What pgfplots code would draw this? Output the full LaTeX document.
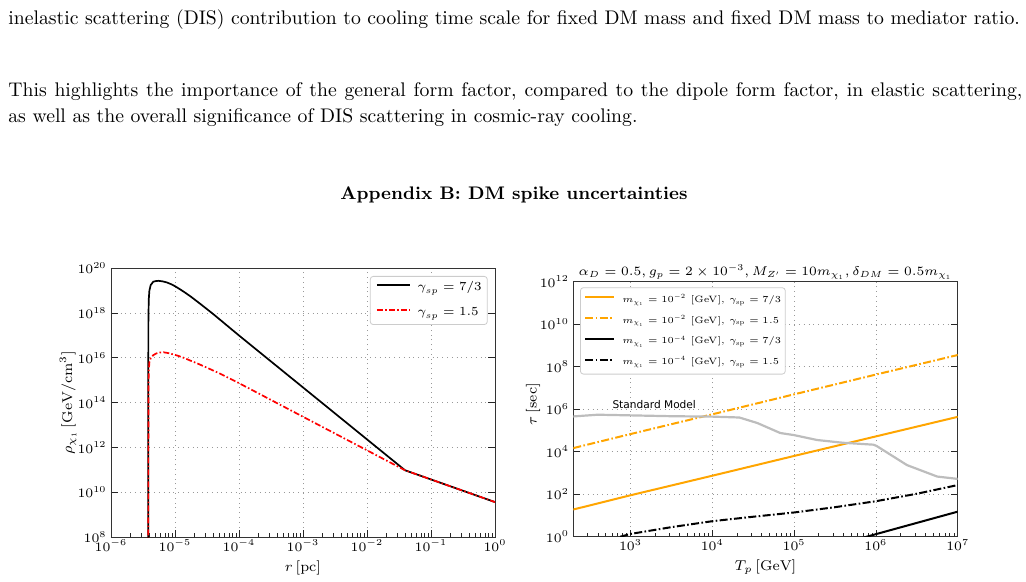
\RequirePackage{fix-cm}
\documentclass[border=0pt]{standalone}
\usepackage{fontspec}
\newfontfamily\dejavu{DejaVu Sans}
\usepackage{pgfplots}
\pgfplotsset{compat=1.18}
\definecolor{mplorange}{HTML}{FFA500}
\definecolor{smgray}{HTML}{BDBDBD}
\pgfplotsset{
  refstyle/.style={
    scale only axis,
    axis line style={black!80},
    every tick/.style={black!85},
    tick align=inside,
    major tick length=3.5pt, minor tick length=1.8pt,
    xtick pos=lower, ytick pos=both,
    xticklabel pos=lower, yticklabel pos=left,
    yminorticks=false,
    xmajorgrids, ymajorgrids,
    grid style={dotted, black!40, line width=0.4pt},
    tick label style={font=\fontsize{6.45}{7.7}\selectfont},
    label style={font=\fontsize{7.1}{8.5}\selectfont},
    xticklabel style={inner sep=1.2pt},
    yticklabel style={inner sep=2pt},
    legend cell align=left,
  }
}
\begin{document}
\begin{tikzpicture}
\useasboundingbox (0pt,0pt) rectangle (513pt,-291pt);
\begin{scope}[font=\fontsize{9.85}{12}\selectfont]
\node[anchor=base west, inner sep=0pt] at (4pt,-12.5pt) {inelastic scattering (DIS) contribution to cooling time scale for fixed DM mass and fixed DM mass to mediator ratio.};
\node[anchor=base west, inner sep=0pt] at (4pt,-48.35pt) {\makebox[507pt][s]{This highlights the importance of the general form factor, compared to the dipole form factor, in elastic scattering,}};
\node[anchor=base west, inner sep=0pt] at (4pt,-61.35pt) {as well as the overall significance of DIS scattering in cosmic-ray cooling.};
\node[anchor=base, inner sep=0pt, font=\fontsize{9.1}{11}\selectfont\bfseries] at (257pt,-100pt) {Appendix B: DM spike uncertainties};
\end{scope}

% ---------------- left panel ----------------
\begin{axis}[xmode=log, ymode=log, refstyle,
  at={(55.5pt,-268.5pt)}, anchor=south west,
  width=192pt, height=134.35pt,
  xmin=1e-6, xmax=1, ymin=1e8, ymax=1e20,
  xtick={1e-6,1e-5,1e-4,1e-3,1e-2,1e-1,1},
  minor xtick={2e-6,3e-6,4e-6,5e-6,6e-6,7e-6,8e-6,9e-6,
               2e-5,3e-5,4e-5,5e-5,6e-5,7e-5,8e-5,9e-5,
               2e-4,3e-4,4e-4,5e-4,6e-4,7e-4,8e-4,9e-4,
               2e-3,3e-3,4e-3,5e-3,6e-3,7e-3,8e-3,9e-3,
               2e-2,3e-2,4e-2,5e-2,6e-2,7e-2,8e-2,9e-2,
               0.2,0.3,0.4,0.5,0.6,0.7,0.8,0.9},
  ytick={1e8,1e10,1e12,1e14,1e16,1e18,1e20},
  xlabel={$r\,[\mathrm{pc}]$},
  ylabel={$\rho_{\chi_1}\,[\mathrm{GeV}/\mathrm{cm}^3]$},
  ylabel style={at={(axis description cs:-0.112,0.5)}, anchor=center},
  legend image code/.code={\draw[#1] (0pt,1.5pt) -- (16.35pt,1.5pt);},
  legend style={at={(1,1)}, anchor=north east, xshift=-3.65pt, yshift=-3.85pt,
    draw=black!20, rounded corners=1.5pt, fill=white,
    font=\fontsize{6.15}{7.4}\selectfont,
    nodes={inner sep=0pt, text height=4.7pt, text depth=1.7pt},
    row sep=6.1pt, column sep=3.65pt,
    inner xsep=2.85pt, inner ysep=2.6pt},
]
\addplot[black, line width=0.85pt] coordinates {
 (3.83e-6,1e7) (3.835e-6,3.16e17) (3.89e-6,3.98e18) (3.98e-6,1e19)
 (4.17e-6,1.78e19) (4.571e-6,2.512e19) (5.012e-6,2.692e19) (5.495e-6,2.754e19)
 (6.310e-6,2.630e19) (7.413e-6,2.344e19) (8.710e-6,1.950e19) (1e-5,1.585e19)
 (1.202e-5,1.148e19) (1.445e-5,8.128e18) (1.778e-5,5.370e18) (2.512e-5,2.512e18)
 (3.981e-5,8.913e17) (1e-4,1e17) (3.93e-2,9.55e10) (1,3.63e9)
};
\addlegendentry{$\gamma_{sp} = 7/3$}
\addplot[red, line width=0.85pt, dash pattern=on 3pt off 1.1pt on 0.8pt off 1.1pt] coordinates {
 (3.83e-6,1e7) (3.846e-6,3.16e14) (3.89e-6,2.51e15) (3.98e-6,6.31e15)
 (4.17e-6,9.55e15) (4.571e-6,1.318e16) (5.129e-6,1.585e16) (5.754e-6,1.738e16)
 (6.607e-6,1.778e16) (7.943e-6,1.622e16) (9.333e-6,1.445e16) (1.122e-5,1.230e16)
 (1.380e-5,1.0e16) (1.698e-5,7.762e15) (2.239e-5,5.623e15) (3.162e-5,3.631e15)
 (5.012e-5,1.995e15) (1e-4,7.413e14) (3.93e-2,9.55e10) (1,3.63e9)
};
\addlegendentry{$\gamma_{sp} = 1.5$}
\end{axis}

% ---------------- right panel ----------------
\begin{axis}[xmode=log, ymode=log, refstyle,
  at={(286.65pt,-268.35pt)}, anchor=south west,
  width=192.2pt, height=127.5pt,
  xmin=200, xmax=1e7, ymin=1, ymax=1e12,
  xtick={1e3,1e4,1e5,1e6,1e7},
  minor xtick={300,400,500,600,700,800,900,
               2000,3000,4000,5000,6000,7000,8000,9000,
               2e4,3e4,4e4,5e4,6e4,7e4,8e4,9e4,
               2e5,3e5,4e5,5e5,6e5,7e5,8e5,9e5,
               2e6,3e6,4e6,5e6,6e6,7e6,8e6,9e6},
  ytick={1,1e2,1e4,1e6,1e8,1e10,1e12},
  xlabel={$T_p\,[\mathrm{GeV}]$},
  ylabel={$\tau\,[\mathrm{sec}]$},
  ylabel style={at={(axis description cs:-0.105,0.52)}, anchor=center},
  title={$\alpha_D = 0.5, g_p = 2\times 10^{-3}, M_{Z'} = 10m_{\chi_1}, \delta_{DM} = 0.5m_{\chi_1}$},
  title style={font=\fontsize{6.35}{7.6}\selectfont, at={(0.5,1)}, anchor=south, yshift=-6pt, inner sep=0.8pt},
  legend image code/.code={\draw[#1] (0pt,1.2pt) -- (14.35pt,1.2pt);},
  legend style={at={(0,1)}, anchor=north west, xshift=3.35pt, yshift=-2.8pt,
    draw=black!20, rounded corners=1.5pt, fill=white,
    font=\fontsize{4.6}{5.5}\selectfont,
    nodes={inner sep=0pt, text height=4.0pt, text depth=1.4pt},
    row sep=5.0pt, column sep=3.65pt,
    inner xsep=2pt, inner ysep=3.3pt},
]
\addplot[mplorange, line width=1pt] coordinates {
 (200,19.05) (1e3,89.1) (1e4,741) (1e5,6310) (1e6,5.25e4) (1e7,4.37e5)
};
\addlegendentry{$m_{\chi_1} = 10^{-2}$ [GeV], $\gamma_{\rm sp} = 7/3$}
\addplot[mplorange, line width=1pt, dash pattern=on 4pt off 1.2pt on 0.8pt off 1.2pt] coordinates {
 (200,1.48e4) (1e3,6.76e4) (1e4,5.75e5) (1e5,5.01e6) (1e6,4.27e7) (1e7,3.55e8)
};
\addlegendentry{$m_{\chi_1} = 10^{-2}$ [GeV], $\gamma_{\rm sp} = 1.5$}
\addplot[black, line width=1pt] coordinates {
 (5.62e5,0.708) (1e6,1.32) (1e7,15.1)
};
\addlegendentry{$m_{\chi_1} = 10^{-4}$ [GeV], $\gamma_{\rm sp} = 7/3$}
\addplot[black, line width=1pt, dash pattern=on 4pt off 1.2pt on 0.8pt off 1.2pt] coordinates {
 (750,1.0) (1e3,1.35) (3162,2.82) (1e4,5.37) (31623,8.71) (1e5,13.8)
 (316228,24.5) (1e6,46.8) (3.162e6,105) (1e7,269)
};
\addlegendentry{$m_{\chi_1} = 10^{-4}$ [GeV], $\gamma_{\rm sp} = 1.5$}
\addplot[smgray, line width=1.1pt, forget plot] coordinates {
 (200,4.57e5) (398,5.50e5) (1e3,5.13e5) (3162,4.68e5) (1e4,4.47e5)
 (2.14e4,4.07e5) (3.55e4,2.24e5) (6.76e4,7.59e4) (1e5,6.03e4)
 (1.91e5,3.55e4) (3.98e5,2.63e4) (9.33e5,2.14e4) (1.02e6,1.86e4)
 (2.40e6,2.34e3) (5.62e6,676) (1e7,525)
};
\node[font={\fontsize{5.3}{6.4}\dejavu}, inner sep=0pt] at (axis cs:1950,1.58e6) {Standard Model};
\end{axis}
\end{tikzpicture}
\end{document}
